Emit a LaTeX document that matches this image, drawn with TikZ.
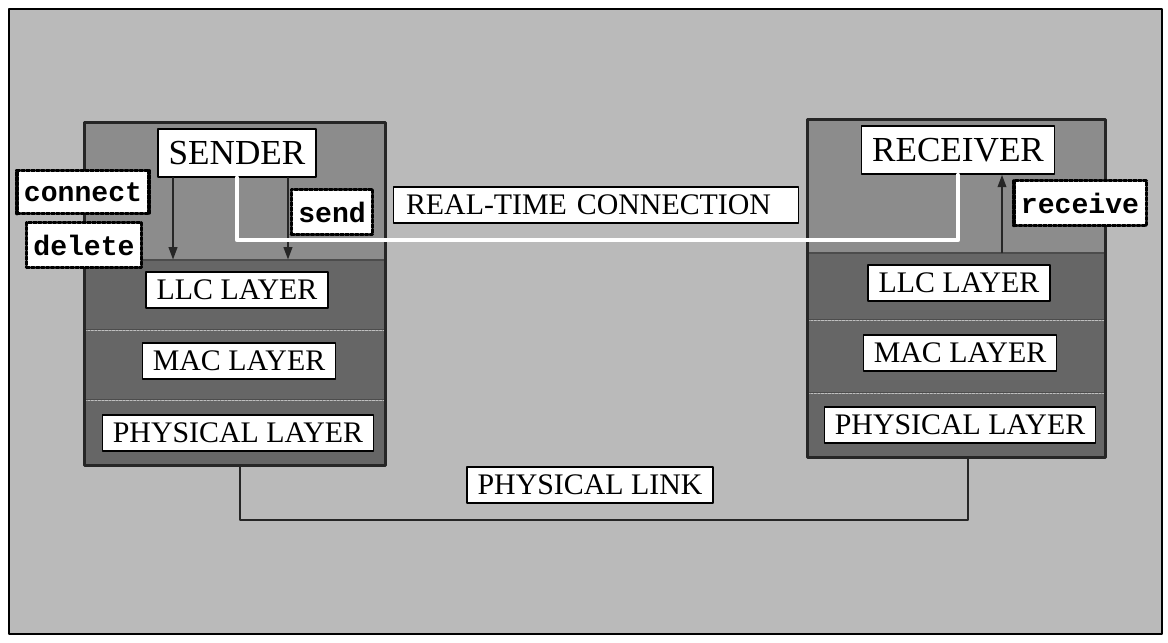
\documentclass[tikz,border=0pt]{standalone}
\usepackage{fontspec}
\setmainfont{Liberation Serif}
\setmonofont{Liberation Mono}
\usetikzlibrary{arrows.meta, positioning}

\begin{document}
\begin{tikzpicture}[x=0.02cm, y=-0.02cm, line join=round, line cap=round]
   % Styles
   \tikzset{
    band/.style={rectangle, draw=black!70, line width=0.6pt, minimum width=6cm, inner sep=0pt},
    head/.style={band, fill=black!45},
    layer/.style={band, fill=black!60},
    lbl/.style={rectangle, draw=black, fill=white, line width=0.8pt, inner xsep=6pt, inner ysep=4.5pt, font=\fontsize{17}{19}\selectfont},
    hlbl/.style={lbl, inner ysep=7pt, font=\fontsize{20}{22}\selectfont},
    prim/.style={rectangle, draw=black, fill=white, densely dotted, line width=1.8pt, inner xsep=4pt, inner ysep=7pt, font=\fontsize{16}{18}\selectfont\ttfamily\bfseries},
    sig/.style={line width=0.8pt, black!85, -{Triangle[length=7pt,width=5pt]}},
    rtline/.style={line width=2.4pt, white},
    link/.style={line width=1.6pt, black!85}
   }
  \useasboundingbox (0,0) rectangle (1168,642);
  \draw[line width=1.4pt, fill=black!27] (9,9) rectangle (1162,634);
  % Sender stack
  \node[head,  minimum height=2.74cm] (shead)    at (235,191.5) {};
  \node[layer, minimum height=1.4cm]  (sllcband) at (235,295) {};
  \node[layer, minimum height=1.4cm]  (smacband) at (235,365) {};
  \node[layer, minimum height=1.3cm]  (sphyband) at (235,432.5) {};
  \draw[black!25, densely dotted, line width=1pt] (sllcband.south west) -- (sllcband.south east);
  \draw[black!25, densely dotted, line width=1pt] (smacband.south west) -- (smacband.south east);
  \draw[line width=2.2pt, black!85] (shead.north west) rectangle (sphyband.south east);
  % Receiver stack
  \node[head,  minimum height=2.66cm, minimum width=5.94cm] (rhead)    at (956.5,186.5) {};
  \node[layer, minimum height=1.34cm, minimum width=5.94cm] (rllcband) at (956.5,286.5) {};
  \node[layer, minimum height=1.46cm, minimum width=5.94cm] (rmacband) at (956.5,356.5) {};
  \node[layer, minimum height=1.28cm, minimum width=5.94cm] (rphyband) at (956.5,425) {};
  \draw[black!25, densely dotted, line width=1pt] (rllcband.south west) -- (rllcband.south east);
  \draw[black!25, densely dotted, line width=1pt] (rmacband.south west) -- (rmacband.south east);
  \draw[line width=2.2pt, black!85] (rhead.north west) rectangle (rphyband.south east);
  % Labels
  \node[hlbl] (sender)   at (237,153) {SENDER};
  \node[hlbl] (receiver) at (958,150) {RECEIVER};
  \node[lbl]  (sllc) at (237,290) {LLC LAYER};
  \node[lbl]  (smac) at (239,361) {MAC LAYER};
  \node[lbl]  (sphy) at (238,433) {PHYSICAL LAYER};
  \node[lbl]  (rllc) at (959,283) {LLC LAYER};
  \node[lbl]  (rmac) at (960,353) {MAC LAYER};
  \node[lbl]  (rphy) at (960,425) {PHYSICAL LAYER};
  % Connections
  \coordinate (rtbend)   at (958,240);
  \coordinate (linkbend) at (968,520);
  \coordinate (rcvtap)   at ([xshift=0.88cm]receiver.south);
  \draw[sig] ([xshift=-1.28cm]sender.south) -- ([xshift=-1.28cm]sender.south |- sllcband.north);
  \draw[sig] ([xshift=1.02cm]sender.south) -- ([xshift=1.02cm]sender.south |- sllcband.north);
  \draw[sig] (rcvtap |- rllcband.north) -- (rcvtap);
  \draw[rtline] (sender.south) |- (rtbend) -- (receiver.south);
  \draw[link] ([xshift=0.1cm]sphyband.south) |- (linkbend) -- (linkbend |- rphyband.south);
  \node[lbl, minimum width=8.1cm, align=left, text width=7.6cm] (rtconn) at (596,205) {REAL-TIME CONNECTION};
  \node[lbl] (plink) at (590,485) {PHYSICAL LINK};
  % Primitives
  \node[prim] (connect) at (83,192)  {connect};
  \node[prim] (delete)  at (84,245)  {delete};
  \node[prim] (send)    at (332,212) {send};
  \node[prim] (receive) at (1080,203) {receive};
\end{tikzpicture}
\end{document}
